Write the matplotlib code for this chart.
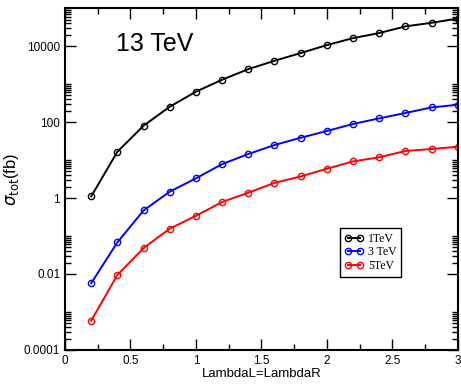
import numpy as np
import matplotlib.pyplot as plt
from matplotlib.ticker import FixedLocator, NullFormatter

# LambdaL = LambdaR coupling
lam = [0.2, 0.4, 0.6, 0.8, 1.0, 1.2, 1.4, 1.6, 1.8, 2.0, 2.2, 2.4, 2.6, 2.8, 3.0]

# total cross sections (fb) at 13 TeV
sig_1tev = [1.1, 16.5, 80, 253, 630, 1300, 2470, 4100, 6550, 10600,
            16200, 22000, 33000, 41000, 53000]
sig_3tev = [0.0057, 0.068, 0.47, 1.47, 3.3, 7.8, 14.4, 24.8, 38.6, 58,
            89, 125, 173, 243, 285]
sig_5tev = [0.00059, 0.0094, 0.048, 0.156, 0.34, 0.785, 1.38, 2.5, 3.7, 5.9,
            9.2, 11.8, 17.3, 19.5, 22.4]

plt.rcParams['font.family'] = ['Liberation Sans', 'DejaVu Sans']

fig = plt.figure(figsize=(4.61, 3.85), dpi=100)
ax = fig.add_axes([0.141, 0.091, 0.852, 0.888])

mk = dict(marker='o', markersize=4.5, markerfacecolor='none', markeredgewidth=1.0, linewidth=1.4)
ax.plot(lam, sig_1tev, color='black', label='1TeV', **mk)
ax.plot(lam, sig_3tev, color='blue', label='3 TeV', **mk)
ax.plot(lam, sig_5tev, color='red', label='5TeV', **mk)

ax.set_yscale('log')
ax.set_xlim(0, 3)
ax.set_ylim(1e-4, 1e5)

ax.set_xticks([0, 0.5, 1, 1.5, 2, 2.5, 3])
ax.set_xticklabels(['0', '0.5', '1', '1.5', '2', '2.5', '3'])
ax.xaxis.set_minor_locator(FixedLocator([0.25, 0.75, 1.25, 1.75, 2.25, 2.75]))

ax.yaxis.set_major_locator(FixedLocator([1e-4, 1e-2, 1, 1e2, 1e4]))
ax.set_yticklabels(['0.0001', '0.01', '1', '100', '10000'])
minor = []
for e in [-4, -2, 0, 2, 4]:
    for m in range(2, 11):
        minor.append(m * 10.0 ** e)
ax.yaxis.set_minor_locator(FixedLocator(minor))
ax.yaxis.set_minor_formatter(NullFormatter())

ax.tick_params(which='both', direction='in', top=True, right=True, labelsize=8.5, width=1.0)
ax.tick_params(which='major', length=8)
ax.tick_params(which='minor', length=4.5)
for s in ax.spines.values():
    s.set_linewidth(1.5)

ax.set_xlabel('LambdaL=LambdaR', fontsize=9.5, labelpad=1)
ax.set_ylabel(r'$\sigma_{\rm tot}$(fb)', fontsize=12, labelpad=2)

ax.text(0.13, 0.895, '13 TeV', transform=ax.transAxes, fontsize=18, va='center')

leg = ax.legend(loc='upper left', bbox_to_anchor=(0.699, 0.357), numpoints=2,
                prop={'family': 'Liberation Serif', 'size': 8.5}, fancybox=False,
                edgecolor='black', framealpha=1, handlelength=1.6,
                borderpad=0.4, labelspacing=0.15, handletextpad=0.4, borderaxespad=0)
leg.get_frame().set_linewidth(1.0)

fig.savefig('out.png', dpi=100)
